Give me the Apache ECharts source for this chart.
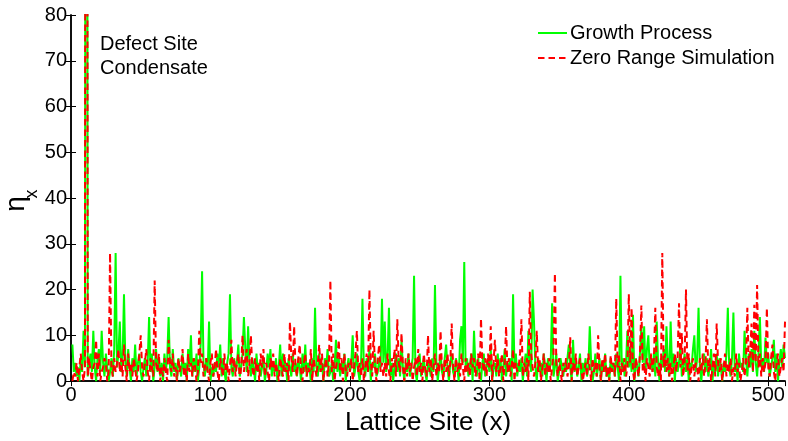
<!DOCTYPE html>
<html>
<head>
<meta charset="utf-8">
<script src="https://cdn.jsdelivr.net/npm/echarts@6/dist/echarts.min.js"></script>
<style>html,body{margin:0;padding:0;background:#fff}#c{width:788px;height:441px}</style>
</head>
<body>
<div id="c"></div>
<script>
// Lattice sites 1..512 (x), occupation eta_x
const growthProcess = [
  8,2,4,1,3,0,5,2,11,3,400,1,4,6,2,11,3,0,5,7,2,11,4,1,6,3,0,2,5,1,7,28,
  3,6,13,2,5,19,4,1,7,3,0,5,2,8,1,4,6,2,0,3,5,1,4,14,2,6,0,3,7,2,5,1,
  4,0,6,2,5,14,3,1,7,2,4,0,5,3,1,6,2,4,0,7,3,10,1,5,2,6,0,3,8,24,4,1,
  5,2,13,0,3,1,4,2,6,3,8,1,5,2,0,4,6,19,3,1,5,2,4,8,1,3,6,14,7,2,12,4,
  1,5,3,0,6,2,4,1,3,5,0,2,6,3,7,1,4,2,5,0,3,8,1,6,2,4,0,5,3,1,6,2,
  4,1,5,3,0,6,2,8,1,4,3,0,5,2,16,3,1,6,2,4,0,5,3,7,1,2,4,0,3,9,2,5,
  1,4,2,6,0,3,5,2,4,10,1,3,6,2,0,4,18,3,1,5,2,7,0,4,3,6,1,2,5,3,18,4,
  13,2,5,16,1,4,0,3,6,2,5,1,9,3,0,4,2,6,1,3,5,23,2,0,4,6,1,3,5,2,0,4,
  3,1,5,2,21,4,0,3,6,2,1,5,8,3,0,4,6,2,1,5,3,0,9,12,4,26,2,5,1,3,6,0,
  11,3,1,5,2,0,4,6,1,3,5,2,7,0,3,4,1,6,2,5,0,3,7,1,4,2,5,0,19,3,6,1,
  4,2,5,0,3,6,1,11,4,2,20,13,3,0,5,2,4,1,6,3,0,5,2,4,17,1,3,6,0,2,5,3,
  1,4,2,5,8,3,0,9,2,5,1,3,6,0,4,2,5,1,3,12,4,0,2,6,1,3,5,0,4,2,6,1,
  3,0,5,2,4,1,6,3,0,23,2,5,1,4,11,3,6,2,14.5,0,5,3,1,6,12,4,12,2,7,10,3,5,
  2,6,1,13,4,0,5,3,7,2,12,4,1,13,3,6,0,5,2,4,8,1,3,6,2,5,0,4,3,7,10,2,
  5,16,3,0,4,6,2,5,1,3,7,0,4,2,6,1,5,3,0,4,2,6,16,3,1,5,15,2,4,0,6,3,
  4,2,11,5,1,6,3,7,2,11,4,1,6,14,3,5,2,9.5,4,6,1,3,5,9,2,6,0,4,7,3,8,5
];
const zeroRangeSimulation = [
  0,2,1,4,0,3,6,2,0,3,400,1,5,2,0,3,4,9,1,6,0,2,3,5,4,0,2,28,3,1,5,2,
  4,7,2,5,1,8,3,0,6,2,4,1,5,3,0,2,6,10,3,1,4,7,2,0,5,3,1,22,4,2,6,0,
  3,1,5,2,0,9,4,2,6,1,3,0,5,2,4,7,1,3,0,6,2,4,1,5,3,0,2,11,4,6,1,3,
  5,2,0,4,6,1,3,7,2,0,5,3,1,6,2,4,0,3,9,2,5,1,4,6,0,3,10,2,5,7,1,4,
  10,3,1,5,2,4,0,6,3,7,1,4,2,0,5,3,6,1,4,2,0,5,3,1,6,2,4,0,13,5,2,12,
  3,1,5,8,2,0,4,6,1,3,2,7,0,5,3,1,4,8,2,6,0,3,5,1,4,22,2,6,0,3,5,9,
  2,5,0,6,3,1,4,2,5,0,3,6,11,2,4,1,5,0,3,6,2,20,4,1,11,3,0,5,8,2,4,1,
  4,1,6,2,0,5,3,7,1,13.5,4,2,10.5,3,0,5,1,6,2,4,0,3,5,1,7,2,4,0,6,3,1,10,
  2,5,0,3,6,1,4,2,11,3,0,5,2,6,1,4,12.6,3,0,5,2,4,1,6,3,0,5,2,4,1,6,3,
  5,1,3,6,0,13.7,4,2,5,1,6,3,12,0,4,9,2,5,1,3,6,0,4,12,2,5,1,3,7,0,4,2,
  3,6,13.5,1,4,2,5,0,19.5,6,3,1,4,11,2,5,0,3,6,1,4,2,5,0,3,6,23.6,4,1,5,2,0,
  4,2,5,1,3,9.6,0,4,2,6,1,3,5,5.3,0,2,4,1,6,3,0,5,2,4,1,10,3,0,5,2,6,1,
  3,0,5.7,2,4,1,18,3,6,0,4,2,5,1,3,19,4,16,2,0,5,3,1,6,16.5,2,4,0,5,3,1,6,
  2,5,16,3,1,4,0,28,3,6,2,5,1,4,0,3,6,2,5.5,17,3,10.5,1,4,20,2,6,0,3,5,1,4,
  3,0,5,2,6,1,4,13.5,2,5,0,3,6,1,12.6,4,2,5,0,3,6,1,4,2,5,0,3,1,6,2,4,0,
  2,5,1,4,16,3,6,12.6,2,16.7,4,21,3,6,1,5,2,4,16,3,1,5,8,2,0,4,6,1,3,5,2,13
];
const seriesNames = ['Growth Process', 'Zero Range Simulation'];
const xLabel = 'Lattice Site (x)';
const annotationLines = ['Defect Site', 'Condensate'];

const FONT = "'Liberation Sans', Arial, Helvetica, sans-serif";
const chart = echarts.init(document.getElementById('c'), null, {renderer: 'canvas'});
const toPairs = arr => arr.map((v, i) => [i + 1, v]);

const axisLine = {show: true, lineStyle: {color: '#000', width: 1.5}};
const tick = {show: true, inside: true, length: 5, lineStyle: {color: '#000', width: 1}};

chart.setOption({
  animation: false,
  backgroundColor: '#fff',
  grid: {left: 71, right: 3, top: 15, bottom: 50, containLabel: false},
  xAxis: [
    {type: 'value', min: 0, max: 512, interval: 100, position: 'bottom',
     axisLine: axisLine, axisTick: tick, splitLine: {show: false},
     axisLabel: {color: '#000', fontSize: 20, fontFamily: FONT, margin: 4, showMaxLabel: false},
     name: xLabel, nameLocation: 'middle', nameGap: 20,
     nameTextStyle: {color: '#000', fontSize: 26, fontFamily: FONT, verticalAlign: 'top'}},
    {type: 'value', min: 0, max: 512, interval: 100, position: 'top',
     axisLine: axisLine, axisTick: tick, splitLine: {show: false}, axisLabel: {show: false}}
  ],
  yAxis: [
    {type: 'value', min: 0, max: 80, interval: 10, position: 'left',
     axisLine: axisLine, axisTick: tick, splitLine: {show: false},
     axisLabel: {color: '#000', fontSize: 20, fontFamily: FONT, margin: 4}},
    {type: 'value', min: 0, max: 80, interval: 10, position: 'right',
     axisLine: axisLine, axisTick: tick, splitLine: {show: false}, axisLabel: {show: false}}
  ],
  legend: {
    orient: 'vertical', left: 537, top: 23, padding: 0, itemGap: 5,
    itemWidth: 29, itemHeight: 14,
    itemStyle: {opacity: 0, borderWidth: 0},
    textStyle: {color: '#000', fontSize: 20, fontFamily: FONT, padding: [0, 0, 0, -2]},
    data: seriesNames
  },
  graphic: [
    {type: 'text', left: 100, top: 32, silent: true,
     style: {text: annotationLines.join('\n'), fontSize: 20, lineHeight: 24, fontFamily: FONT, fill: '#000'}},
    {type: 'text', x: 16, y: 204, rotation: Math.PI / 2, silent: true,
     style: {text: 'η', fontSize: 28, fontFamily: FONT, fill: '#000', align: 'center', verticalAlign: 'middle'}},
    {type: 'text', x: 32, y: 194, rotation: Math.PI / 2, silent: true,
     style: {text: 'x', fontSize: 18, fontFamily: FONT, fill: '#000', align: 'center', verticalAlign: 'middle'}}
  ],
  series: [
    {name: seriesNames[0], type: 'line', data: toPairs(growthProcess), showSymbol: false, symbol: 'none',
     clip: true, lineStyle: {color: '#00ff00', width: 2}, itemStyle: {color: '#00ff00'}, z: 2},
    {name: seriesNames[1], type: 'line', data: toPairs(zeroRangeSimulation), showSymbol: false, symbol: 'none',
     clip: true, lineStyle: {color: '#ff0000', width: 2, type: [6.5, 4]}, itemStyle: {color: '#ff0000'}, z: 3}
  ]
});
</script>
</body>
</html>
